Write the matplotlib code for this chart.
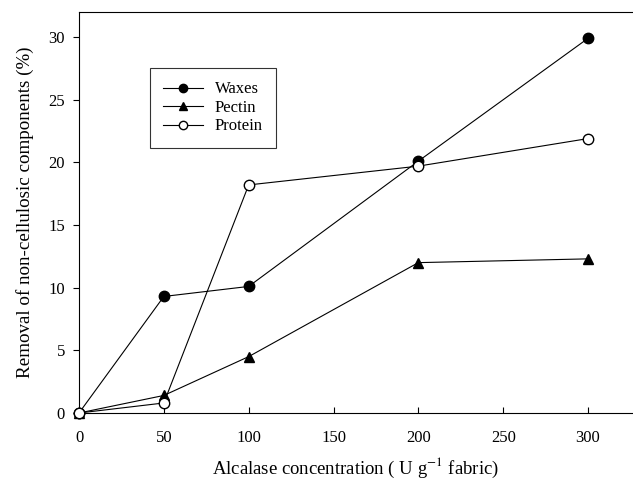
import numpy as np
import matplotlib.pyplot as plt

plt.rcParams['font.family'] = 'Liberation Serif'
plt.rcParams['mathtext.fontset'] = 'stix'

conc = [0, 50, 100, 200, 300]
waxes = [0, 9.3, 10.1, 20.1, 29.9]
pectin = [0, 1.4, 4.5, 12.0, 12.3]
protein = [0, 0.8, 18.2, 19.7, 21.9]

fig = plt.figure(figsize=(6.33, 4.96), dpi=100)
ax = fig.add_axes([79 / 633, 1 - 413 / 496, 1 - 79 / 633, (413 - 12) / 496])

ax.plot(conc, waxes, '-o', color='black', lw=0.8, ms=7.5, mfc='black', mec='black',
        label='Waxes', clip_on=False, zorder=3)
ax.plot(conc, pectin, '-^', color='black', lw=0.8, ms=7.5, mfc='black', mec='black',
        label='Pectin', clip_on=False, zorder=3)
ax.plot(conc, protein, '-o', color='black', lw=0.8, ms=7.5, mfc='white', mec='black',
        label='Protein', clip_on=False, zorder=4)

ax.set_xlim(0, 326.5)
ax.set_ylim(0, 32)
ax.set_xticks([0, 50, 100, 150, 200, 250, 300])
ax.set_yticks([0, 5, 10, 15, 20, 25, 30])
ax.spines['right'].set_visible(False)
for s in ax.spines.values():
    s.set_linewidth(0.8)
ax.tick_params(axis='x', direction='in', length=4, width=0.8, labelsize=12, pad=12)
ax.tick_params(axis='y', direction='out', length=4, width=0.8, labelsize=12, pad=6)

ax.set_xlabel('Alcalase concentration ( U g$^{-1}$ fabric)', fontsize=13.5, labelpad=7)
ax.set_ylabel('Removal of non-cellulosic components (%)', fontsize=13.7, labelpad=10)

leg = ax.legend(loc='upper left', bbox_to_anchor=(150 / 633, 1 - 68 / 496),
                bbox_transform=fig.transFigure, fontsize=12, frameon=True,
                fancybox=False, handlelength=2.4, borderpad=0.8, labelspacing=0.15,
                handletextpad=0.7, borderaxespad=0, markerscale=0.8)
leg.get_frame().set_edgecolor('black')
leg.get_frame().set_linewidth(0.8)

fig.savefig('out.png', dpi=100)
